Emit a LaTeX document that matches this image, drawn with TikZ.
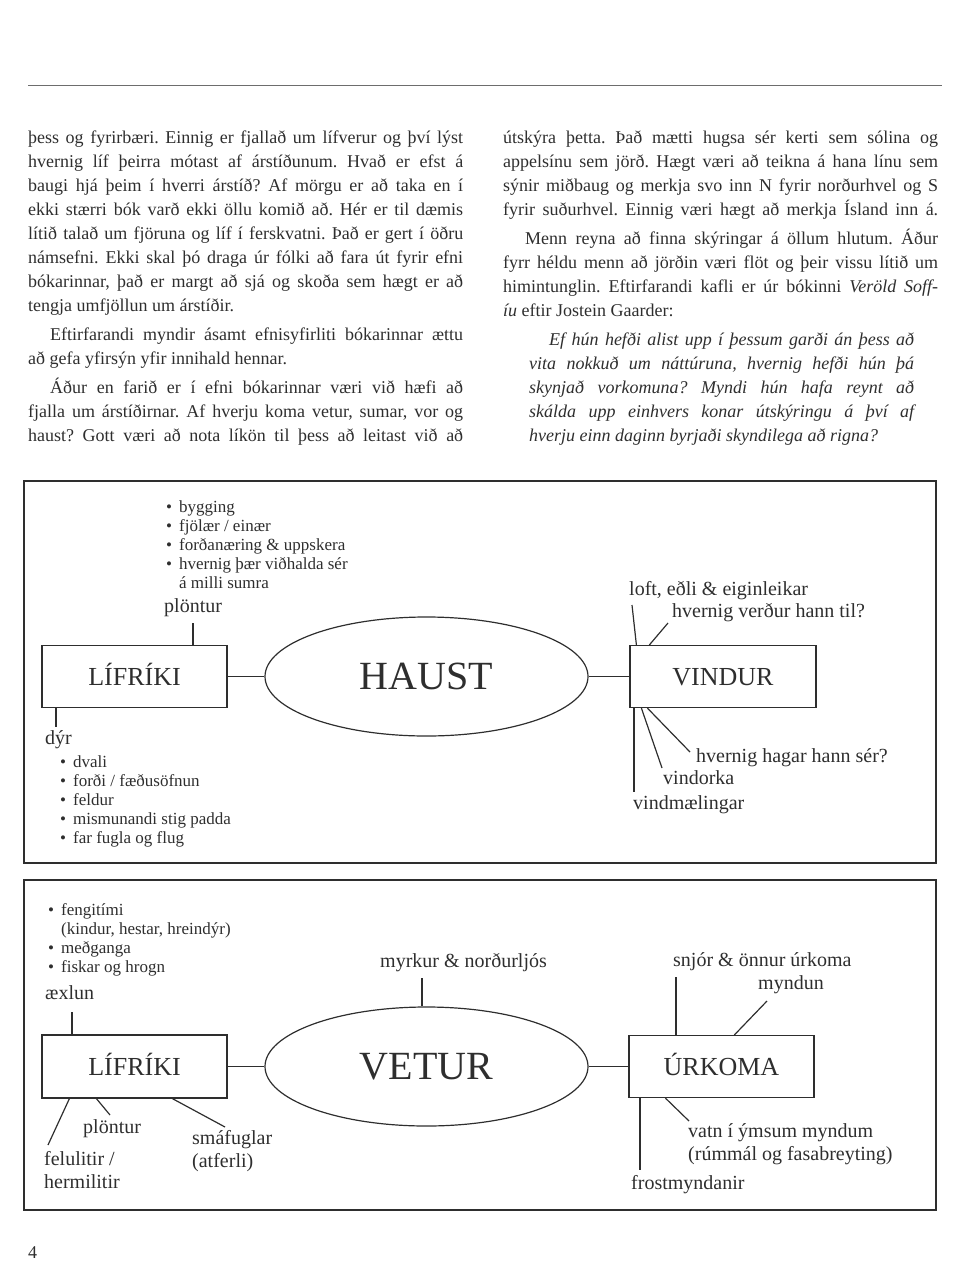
\documentclass[tikz,border=0pt]{standalone}
\usepackage{fontspec}
\setmainfont{Liberation Serif}
\usetikzlibrary{shapes.geometric}
\frenchspacing

\definecolor{blek}{gray}{0.18}

\newcommand{\megin}{\fontsize{18}{24}\selectfont}
\newcommand{\jl}[2][435pt]{\makebox[#1][s]{#2}}

\tikzset{
  texti/.style={anchor=base west, align=left, inner sep=0pt, font=\megin},
  kassi/.style={draw=blek, line width=1.2pt, minimum width=185pt,
    minimum height=62pt, inner sep=0pt, text height=17pt, text depth=0pt,
    font=\fontsize{26}{30}\selectfont},
  sporbaugur/.style={draw=blek, ellipse, line width=1.2pt,
    minimum width=323pt, minimum height=119pt, inner sep=0pt,
    text height=26.5pt, text depth=0pt, font=\fontsize{40}{44}\selectfont},
  merki/.style={anchor=base west, align=left, inner sep=0pt,
    font=\fontsize{20}{23}\selectfont},
  listi/.style={anchor=base west, inner sep=0pt,
    font=\fontsize{17}{19}\selectfont},
  tengi/.style={draw=blek, line width=1.2pt},
  rammi/.style={draw=blek, line width=1.3pt},
}

\begin{document}
\begin{tikzpicture}[x=1pt, y=-1pt, every node/.append style={text=blek}]
\useasboundingbox (0,0) rectangle (966,1288);

% ── Efsta strik ───────────────────────────────────────────────
\draw[blek!70, line width=0.9pt] (28,85) -- (942,85);

% ── Vinstri dálkur (grunnlína síðustu línu) ───────────────────
\node[texti] (vinstriA) at (28,311) {%
  \jl{þess og fyrirbæri. Einnig er fjallað um lífverur og því lýst}\\
  \jl{hvernig líf þeirra mótast af árstíðunum. Hvað er efst á}\\
  \jl{baugi hjá þeim í hverri árstíð? Af mörgu er að taka en í}\\
  \jl{ekki stærri bók varð ekki öllu komið að. Hér er til dæmis}\\
  \jl{lítið talað um fjöruna og líf í ferskvatni. Það er gert í öðru}\\
  \jl{námsefni. Ekki skal þó draga úr fólki að fara út fyrir efni}\\
  \jl{bókarinnar, það er margt að sjá og skoða sem hægt er að}\\
  tengja umfjöllun um árstíðir.};
\node[texti] (vinstriB) at (28,364) {%
  \jl{\hspace{22pt}Eftirfarandi myndir ásamt efnisyfirliti bókarinnar ættu}\\
  að gefa yfirsýn yfir innihald hennar.};
\node[texti] (vinstriC) at (28,441) {%
  \jl{\hspace{22pt}Áður en farið er í efni bókarinnar væri við hæfi að}\\
  \jl{fjalla um árstíðirnar. Af hverju koma vetur, sumar, vor og}\\
  \jl{haust? Gott væri að nota líkön til þess að leitast við að}};

% ── Hægri dálkur ──────────────────────────────────────────────
\node[texti] (haegriA) at (503,215) {%
  \jl{útskýra þetta. Það mætti hugsa sér kerti sem sólina og}\\
  \jl{appelsínu sem jörð. Hægt væri að teikna á hana línu sem}\\
  \jl{sýnir miðbaug og merkja svo inn N fyrir norðurhvel og S}\\
  \jl{fyrir suðurhvel. Einnig væri hægt að merkja Ísland inn á.}};
\node[texti] (haegriB) at (503,316) {%
  \jl{\hspace{22pt}Menn reyna að finna skýringar á öllum hlutum. Áður}\\
  \jl{fyrr héldu menn að jörðin væri flöt og þeir vissu lítið um}\\
  \jl{himintunglin. Eftirfarandi kafli er úr bókinni \textit{Veröld Soff-}}\\
  \textit{íu} eftir Jostein Gaarder:};
% tilvitnun
\node[texti, font=\megin\itshape] (tilvitnun) at (529,441) {%
  \jl[385pt]{\hspace{20pt}Ef hún hefði alist upp í þessum garði án þess að}\\
  \jl[385pt]{vita nokkuð um náttúruna, hvernig hefði hún þá}\\
  \jl[385pt]{skynjað vorkomuna? Myndi hún hafa reynt að}\\
  \jl[385pt]{skálda upp einhvers konar útskýringu á því af}\\
  hverju einn daginn byrjaði skyndilega að rigna?};

% ── HAUST ─────────────────────────────────────────────────────
\draw[rammi] (24,481) rectangle (936,863);
\node[sporbaugur] (haust) at (426.5,676.5) {HAUST};
\node[kassi] (lifA) at (134.5,676.5) {LÍFRÍKI};
\node[kassi, minimum width=186pt] (vindur) at (723,676.5) {VINDUR};
\draw[tengi] (lifA.east) -- (haust.west);
\draw[tengi] (haust.east) -- (vindur.west);

% plöntur
\node[listi] (plontulisti) at (166,512.5) {\begin{tabular}[t]{@{}l@{\hspace{7pt}}l@{}}
  \textbullet & bygging\\
  \textbullet & fjölær / einær\\
  \textbullet & forðanæring \& uppskera\\
  \textbullet & hvernig þær viðhalda sér\\
              & á milli sumra
  \end{tabular}};
\node[merki] (plontur) at (164,612.5) {plöntur};
\coordinate (plontuend) at (193,623);
\draw[tengi] (plontuend) -- (plontuend |- lifA.north);

% dýr
\node[merki] (dyr) at (45,744.5) {dýr};
\coordinate (dyrend) at (56,727);
\draw[tengi] (dyrend |- lifA.south) -- (dyrend);
\node[listi] (dyralisti) at (60,767.5) {\begin{tabular}[t]{@{}l@{\hspace{7pt}}l@{}}
  \textbullet & dvali\\
  \textbullet & forði / fæðusöfnun\\
  \textbullet & feldur\\
  \textbullet & mismunandi stig padda\\
  \textbullet & far fugla og flug
  \end{tabular}};

% vindur
\node[merki] (loft) at (629,595.5) {loft, eðli \& eiginleikar};
\node[merki] (verdur) at (672,617.5) {hvernig verður hann til?};
\node[merki] (hagar) at (696,762.5) {hvernig hagar hann sér?};
\node[merki] (vindorka) at (663,784.5) {vindorka};
\node[merki] (maelingar) at (633,809.5) {vindmælingar};
\coordinate (loftend) at (632,605);
\coordinate (verdurend) at (668,623);
\coordinate (hagarend) at (690,752);
\coordinate (orkuend) at (662,768);
\coordinate (maelend) at (634,792);
\draw[tengi] ([xshift=7pt]vindur.north west) -- (loftend);
\draw[tengi] ([xshift=20pt]vindur.north west) -- (verdurend);
\draw[tengi] ([xshift=18pt]vindur.south west) -- (hagarend);
\draw[tengi] ([xshift=12pt]vindur.south west) -- (orkuend);
\draw[tengi] (maelend |- vindur.south) -- (maelend);

% ── VETUR ─────────────────────────────────────────────────────
\draw[rammi] (24,880) rectangle (936,1210);
\node[sporbaugur] (vetur) at (426.5,1066.5) {VETUR};
\node[kassi, minimum height=63pt] (lifB) at (134.5,1066.5) {LÍFRÍKI};
\node[kassi] (urkoma) at (721.5,1066.5) {ÚRKOMA};
\draw[tengi] (lifB.east) -- (vetur.west);
\draw[tengi] (vetur.east) -- (urkoma.west);

% æxlun
\node[listi] (aexlunarlisti) at (48,915.5) {\begin{tabular}[t]{@{}l@{\hspace{7pt}}l@{}}
  \textbullet & fengitími\\
              & (kindur, hestar, hreindýr)\\
  \textbullet & meðganga\\
  \textbullet & fiskar og hrogn
  \end{tabular}};
\node[merki] (aexlun) at (45,999.5) {æxlun};
\coordinate (aexlunend) at (72,1012);
\draw[tengi] (aexlunend) -- (aexlunend |- lifB.north);

% felulitir, plöntur, smáfuglar
\node[merki] (felulitir) at (44,1188.5) {felulitir /\\hermilitir};
\node[merki] (plonturB) at (83,1133.5) {plöntur};
\node[merki] (smafuglar) at (192,1167.5) {smáfuglar\\(atferli)};
\coordinate (feluend) at (48,1145);
\coordinate (plontuendB) at (110,1115);
\coordinate (smafuglend) at (225,1127);
\draw[tengi] ([xshift=28pt]lifB.south west) -- (feluend);
\draw[tengi] ([xshift=55pt]lifB.south west) -- (plontuendB);
\draw[tengi] ([xshift=131pt]lifB.south west) -- (smafuglend);

% myrkur
\node[merki] (myrkur) at (380,967.5) {myrkur \& norðurljós};
\coordinate (myrkurend) at (422,978);
\draw[tengi] (myrkurend) -- (myrkurend |- vetur.north);

% úrkoma
\node[merki] (snjor) at (673,966.5) {snjór \& önnur úrkoma};
\node[merki] (myndun) at (758,989.5) {myndun};
\node[merki] (vatn) at (688,1160.5) {vatn í ýmsum myndum\\(rúmmál og fasabreyting)};
\node[merki] (frost) at (631,1189.5) {frostmyndanir};
\coordinate (snjorend) at (676,977);
\coordinate (myndunend) at (767,1001);
\coordinate (vatnend) at (689,1121);
\coordinate (frostend) at (640,1170);
\draw[tengi] (snjorend) -- (snjorend |- urkoma.north);
\draw[tengi] ([xshift=106pt]urkoma.north west) -- (myndunend);
\draw[tengi] ([xshift=37pt]urkoma.south west) -- (vatnend);
\draw[tengi] (frostend |- urkoma.south) -- (frostend);

% ── Blaðsíðutal ───────────────────────────────────────────────
\node[anchor=base west, inner sep=0pt, font=\fontsize{18}{20}\selectfont] (sidutal) at (28,1258) {4};

\end{tikzpicture}
\end{document}
